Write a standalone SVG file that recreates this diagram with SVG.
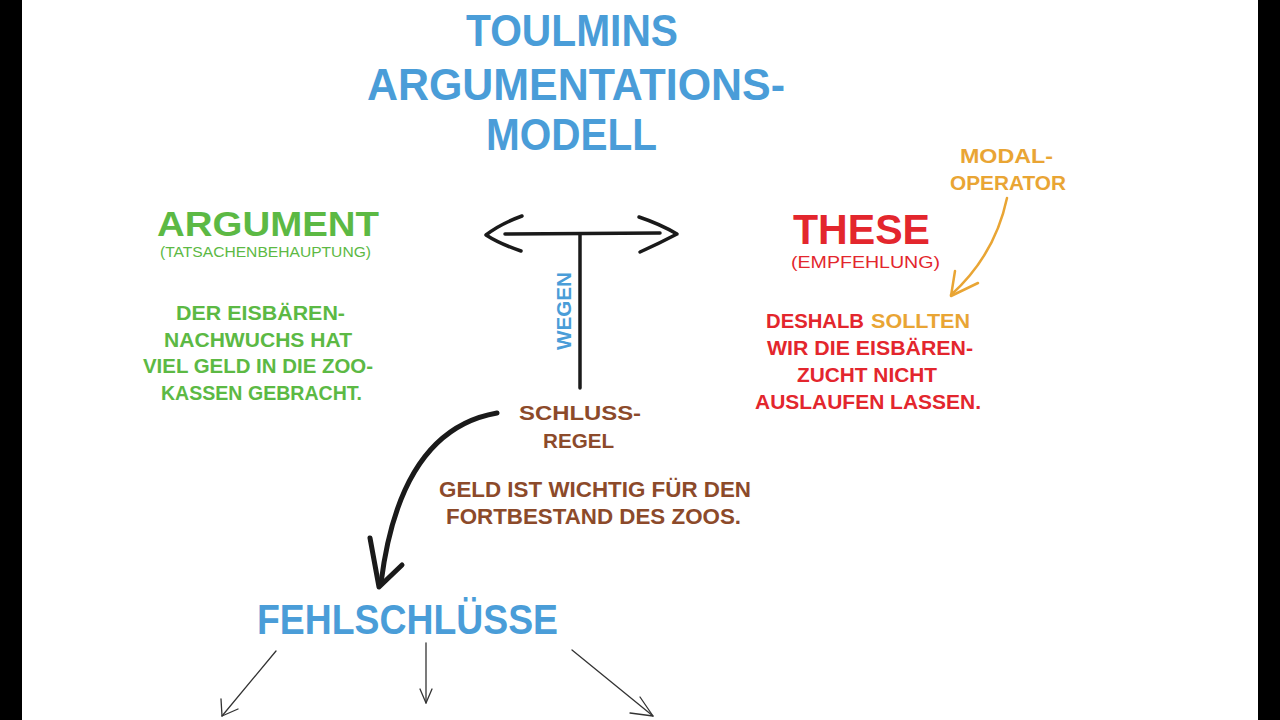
<svg xmlns="http://www.w3.org/2000/svg" width="1280" height="720" viewBox="0 0 1280 720">
<style>
text{font-family:"Liberation Sans","DejaVu Sans",sans-serif;font-weight:bold;}
.blue{fill:#4a9dd8;}
.green{fill:#5cb944;}
.red{fill:#e3262d;}
.orange{fill:#e9a534;}
.brown{fill:#8c4a2a;}
.light{font-weight:normal;}
.ink{fill:none;stroke:#1a1a1a;stroke-linecap:round;stroke-linejoin:round;}
.thin{fill:none;stroke:#333;stroke-width:1.3;stroke-linecap:round;stroke-linejoin:round;}
</style>
<rect x="0" y="0" width="1280" height="720" fill="#000"/>
<rect x="22" y="0" width="1236" height="720" fill="#fff"/>

<g id="title">
<text class="blue" x="466" y="46" font-size="45" textLength="212" lengthAdjust="spacingAndGlyphs">TOULMINS</text>
<text class="blue" x="367" y="100" font-size="45" textLength="418" lengthAdjust="spacingAndGlyphs">ARGUMENTATIONS-</text>
<text class="blue" x="486" y="150" font-size="45" textLength="171" lengthAdjust="spacingAndGlyphs">MODELL</text>
</g>

<g id="argument">
<text class="green" x="157" y="236" font-size="35" textLength="222" lengthAdjust="spacingAndGlyphs">ARGUMENT</text>
<text class="green light" x="160" y="257" font-size="14" textLength="211" lengthAdjust="spacingAndGlyphs">(TATSACHENBEHAUPTUNG)</text>
<text class="green" x="176" y="320" font-size="21" textLength="169" lengthAdjust="spacingAndGlyphs">DER EISBÄREN-</text>
<text class="green" x="164" y="347" font-size="21" textLength="188" lengthAdjust="spacingAndGlyphs">NACHWUCHS HAT</text>
<text class="green" x="143" y="373" font-size="21" textLength="230" lengthAdjust="spacingAndGlyphs">VIEL GELD IN DIE ZOO-</text>
<text class="green" x="161" y="400" font-size="21" textLength="201" lengthAdjust="spacingAndGlyphs">KASSEN GEBRACHT.</text>
</g>

<g id="these">
<text class="red" x="793" y="244" font-size="42" textLength="137" lengthAdjust="spacingAndGlyphs">THESE</text>
<text class="red light" x="791" y="268" font-size="16" textLength="149" lengthAdjust="spacingAndGlyphs">(EMPFEHLUNG)</text>
<text class="red" x="766" y="328" font-size="21" textLength="98" lengthAdjust="spacingAndGlyphs">DESHALB</text>
<text class="orange" x="871" y="328" font-size="21" textLength="99" lengthAdjust="spacingAndGlyphs">SOLLTEN</text>
<text class="red" x="767" y="355" font-size="21" textLength="206" lengthAdjust="spacingAndGlyphs">WIR DIE EISBÄREN-</text>
<text class="red" x="797" y="382" font-size="21" textLength="140" lengthAdjust="spacingAndGlyphs">ZUCHT NICHT</text>
<text class="red" x="755" y="409" font-size="21" textLength="226" lengthAdjust="spacingAndGlyphs">AUSLAUFEN LASSEN.</text>
</g>

<g id="modaloperator">
<text class="orange" x="960" y="163" font-size="20" textLength="93" lengthAdjust="spacingAndGlyphs">MODAL-</text>
<text class="orange" x="950" y="190" font-size="20" textLength="116" lengthAdjust="spacingAndGlyphs">OPERATOR</text>
</g>

<g id="schlussregel">
<text class="brown" x="519" y="420" font-size="21" textLength="122" lengthAdjust="spacingAndGlyphs">SCHLUSS-</text>
<text class="brown" x="543" y="448" font-size="21" textLength="71" lengthAdjust="spacingAndGlyphs">REGEL</text>
<text class="brown" x="439" y="497" font-size="22" textLength="312" lengthAdjust="spacingAndGlyphs">GELD IST WICHTIG FÜR DEN</text>
<text class="brown" x="446" y="524" font-size="22" textLength="295" lengthAdjust="spacingAndGlyphs">FORTBESTAND DES ZOOS.</text>
</g>

<g id="wegen">
<text class="blue" transform="translate(571,350) rotate(-90)" x="0" y="0" font-size="21" textLength="78" lengthAdjust="spacingAndGlyphs">WEGEN</text>
</g>

<g id="fehlschluesse">
<text class="blue" x="257" y="634" font-size="42" textLength="301" lengthAdjust="spacingAndGlyphs">FEHLSCHLÜSSE</text>
</g>

<g id="connectors">
<path class="ink" stroke-width="3.5" d="M505 234 L660 233"/>
<path class="ink" stroke-width="3.5" d="M522 216 Q500 224 486 235 Q500 244 521 251"/>
<path class="ink" stroke-width="3.5" d="M639 217 Q660 224 677 234 Q660 243 640 252"/>
<path class="ink" stroke-width="3.5" d="M580 235 L580 388"/>
<path class="ink" stroke-width="5" d="M497 413 Q400 430 381 583"/>
<path class="ink" stroke-width="5" d="M370 538 L379 587 L402 565"/>
<path d="M1007 198 Q995 255 951 295" fill="none" stroke="#e9a534" stroke-width="2.5" stroke-linecap="round"/>
<path d="M955 271 L951 296 L978 283" fill="none" stroke="#e9a534" stroke-width="2.5" stroke-linecap="round" stroke-linejoin="round"/>
<path class="thin" d="M276 651 L222 716"/>
<path class="thin" d="M221 699 L222 716 L238 709"/>
<path class="thin" d="M426 643 L426 703"/>
<path class="thin" d="M420 689 L426 703 L432 689"/>
<path class="thin" d="M572 650 L653 716"/>
<path class="thin" d="M640 697 L653 716 L630 713"/>
</g>
</svg>
